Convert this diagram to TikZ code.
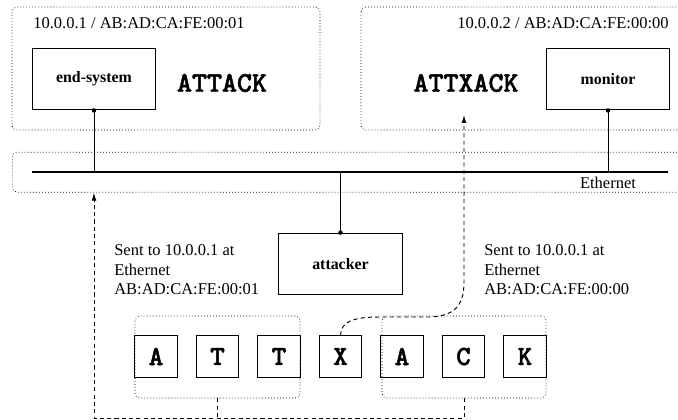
\documentclass[tikz,border=0pt]{standalone}
\usepackage{fontspec}
\setmainfont{Liberation Serif}
\newfontfamily\pktfont{lmmonolt10-bold.otf}[FakeBold=1.6]
\usetikzlibrary{arrows.meta}

\tikzset{
  hostbox/.style={draw, dash pattern=on 0.5pt off 1.4pt, rounded corners=3pt},
  sysbox/.style={draw, line width=0.6pt, minimum width=78pt, minimum height=39pt, font=\bfseries},
  charbox/.style={draw, line width=0.6pt, minimum width=26.5pt, minimum height=26pt, font=\fontsize{17.5}{19}\selectfont\pktfont},
  bigword/.style={font=\fontsize{18}{20}\selectfont\pktfont},
  note/.style={align=left, inner sep=0pt},
  link/.style={line width=0.5pt},
  pkt/.style={line width=0.6pt, dash pattern=on 2.6pt off 2pt}
}

\begin{document}
\begin{tikzpicture}[x=0.63pt, y=-0.63pt, font=\fontsize{10.4}{12.3}\selectfont]
      \useasboundingbox (0,0) rectangle (678,420);
      \clip (0,0) rectangle (678,420);

      % Hosts (dotted frames)
      \draw[hostbox] (12,7) rectangle (320,130);
      \draw[hostbox] (361,7) rectangle (700,130);
      \node[anchor=west, inner sep=0pt] (ip1) at (33,23) {10.0.0.1 / AB:AD:CA:FE:00:01};
      \node[anchor=east, inner sep=0pt] (ip2) at (669,23) {10.0.0.2 / AB:AD:CA:FE:00:00};

      \node[sysbox] (es) at (94,79) {end-system};
      \node[bigword] (w1) at (222,83) {ATTACK};
      \node[sysbox] (mon) at (608,79) {monitor};
      \node[bigword] (w2) at (466,83) {ATTXACK};

      % Ethernet segment
      \node[hostbox, minimum width=435pt, minimum height=25.2pt, anchor=north west] (lan) at (12,152) {};
      \coordinate (ethL) at (32,172);
      \coordinate (ethR) at (668,172);
      \draw[line width=1.2pt] (ethL) -- (ethR);
      \node[inner sep=0pt] (ethlbl) at (608,183) {Ethernet};

      % Attacker
      \node[sysbox] (att) at (340.5,264) {attacker};

      % Taps onto the wire
      \draw[link] (es.south) -- (es.south |- ethL);
      \fill (es.south) circle (1.4pt);
      \draw[link] (mon.south) -- (mon.south |- ethL);
      \fill (mon.south) circle (1.4pt);
      \draw[link] (att.north) -- (att.north |- ethL);
      \fill (att.north) circle (1.4pt);

      % Notes
      \node[note, anchor=west] (n1) at (114,270) {Sent to 10.0.0.1 at\\Ethernet\\AB:AD:CA:FE:00:01};
      \node[note, anchor=west] (n2) at (484,270) {Sent to 10.0.0.1 at\\Ethernet\\AB:AD:CA:FE:00:00};

      % Packet letters
      \foreach \ch [count=\i] in {A,T,T,X,A,C,K}
        \node[charbox] (c\i) at (156+61.5*\i-61.5, 356.5) {\ch};

      % Fragment groups
      \node[hostbox, minimum width=104pt, minimum height=51.7pt] (gL) at (217.5,357) {};
      \node[hostbox, minimum width=103.3pt, minimum height=51.7pt] (gR) at (464,357) {};

      % Paths of the fragments
      \coordinate (botL) at (94,418);
      \coordinate (tipR) at (464,115);
      \draw[pkt] (gL.south) -- (gL.south |- botL);
      \draw[pkt, -{Latex[length=5pt,width=3pt]}] (gR.south) -- (gR.south |- botL) -- (botL) -- (lan.south -| es.south);
      \draw[pkt, -{Latex[length=5pt,width=3pt]}] (c4.north) .. controls (341,322) and (352,317) .. (380,317)
        -- (430,317) .. controls (455,316) and (464,305) .. (464,282) -- (tipR);
    \end{tikzpicture}
\end{document}
